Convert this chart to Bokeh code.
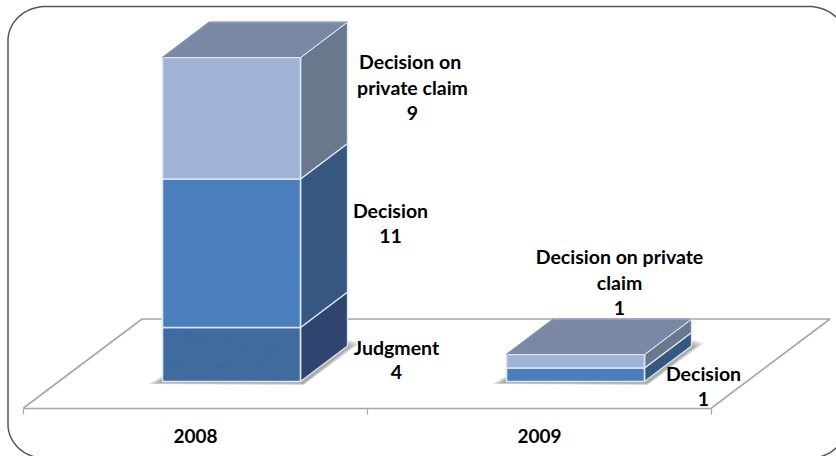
import numpy as np
from bokeh.core.properties import value
from bokeh.embed import file_html
from bokeh.models import FixedTicker, LinearAxis, Range1d
from bokeh.plotting import figure
from bokeh.resources import INLINE

# ---- data ----
categories = ["2008", "2009"]
series_names = ["Judgment", "Decision", "Decision on private claim"]
judgment = [4, 0]
decision = [11, 1]
private_claim = [9, 1]
tick_positions = [0, 1, 2]

# ---- styles ----
front_colors = ["#406b9f", "#4a7ebd", "#9fb3d6"]
side_colors = ["#2f4570", "#36577f", "#6a788e"]
top_color = "#7a88a6"
edge_color = "#dce6f2"
floor_color = "#a6a6a6"
border_color = "#555555"
PX_X = 344.0        # pixels per category
PX_Y = 13.5         # pixels per value unit
ORIGIN_X = 23.0
ORIGIN_Y = 381.0


def X(px):
    return (px - ORIGIN_X) / PX_X


def Y(py):
    return (ORIGIN_Y - py) / PX_Y


BAR_LEFT = 139.0 / PX_X
BAR_W = 138 / PX_X
DEPTH_X = 47 / PX_X
DEPTH_Y = 35.5 / PX_Y

p = figure(width=836, height=456, x_range=Range1d(X(0), X(836)), y_range=Range1d(Y(456), Y(0)),
           output_backend="svg", toolbar_location=None, min_border=0, outline_line_color=None,
           background_fill_color="white", border_fill_color="white", x_axis_type=None, y_axis_type=None)
p.grid.visible = False

# rounded frame (partly running off the picture)
L, R, T, B, rx, ry = 7.5, 846, 6, 458, 38, 34
a = np.linspace(0, np.pi / 2, 24)
bx = np.concatenate([L + rx - rx * np.cos(a), R - rx + rx * np.sin(a), R - rx + rx * np.cos(a), L + rx - rx * np.sin(a), [L]])
by = np.concatenate([T + ry - ry * np.sin(a), T + ry - ry * np.cos(a), B - ry + ry * np.sin(a), B - ry + ry * np.cos(a), [T + ry]])
p.line(X(bx), Y(by), line_color=border_color, line_width=1.5)

# floor
floor_dx = 118.5 / PX_X
back_y = Y(318.5)
front_y = Y(407.5)
p.line([0, floor_dx, 2 + floor_dx, 2], [front_y, back_y, back_y, front_y], line_color=floor_color, line_width=1.6)

# axes: ticks and category labels
tick_axis = LinearAxis(fixed_location=front_y, ticker=FixedTicker(ticks=tick_positions), bounds=(0, 2),
                       axis_line_color=floor_color, axis_line_width=1.6,
                       major_tick_line_color=floor_color, major_tick_line_width=1.2,
                       major_tick_out=6, major_tick_in=0, minor_tick_line_color=None,
                       major_label_text_font_size="0px", major_label_text_color=None)
p.add_layout(tick_axis, "below")
label_ticks = [i + 0.5 for i in range(len(categories))]
label_axis = LinearAxis(fixed_location=front_y, ticker=FixedTicker(ticks=label_ticks),
                        axis_line_color=None, major_tick_line_color=None, minor_tick_line_color=None,
                        major_label_overrides={t: c for t, c in zip(label_ticks, categories)},
                        major_label_standoff=15, major_label_text_font="Lato",
                        major_label_text_font_style="bold", major_label_text_font_size="19px",
                        major_label_text_color="#000000")
p.add_layout(label_axis, "below")

# soft shadows
for i in range(len(categories)):
    x0 = 162 + i * PX_X + 1
    for k in range(4):
        sx = [x0 - 15 + 3 * k, x0 - 2, x0 + 188 - 2 * k, x0 + 196 - 3 * k, x0 + 140]
        sy = [383.5 - k * 0.3, 376 + k, 340 + k, 343 + k, 384.5 - k * 0.5]
        p.patch(X(np.array(sx)), Y(np.array(sy)), fill_color="#444444", fill_alpha=0.14, line_color=None)

# 3-D stacked bars
stacks = [judgment, decision, private_claim]
for i in range(len(categories)):
    left = i + BAR_LEFT
    right = left + BAR_W
    base = 0
    for s, vals in enumerate(stacks):
        v = vals[i]
        if v == 0:
            continue
        top = base + v
        p.patch([right, right + DEPTH_X, right + DEPTH_X, right],
                [base, base + DEPTH_Y, top + DEPTH_Y, top],
                fill_color=side_colors[s], line_color=edge_color, line_width=1.3)
        p.quad(left=[left], right=[right], bottom=[base], top=[top],
               fill_color=front_colors[s], line_color=edge_color, line_width=1.6)
        base = top
    p.patch([left, left + DEPTH_X, right + DEPTH_X, right],
            [base, base + DEPTH_Y, base + DEPTH_Y, base],
            fill_color=top_color, line_color=edge_color, line_width=1.0)
    # back-edge edges of top stay soft
    p.line([left, left + DEPTH_X, right + DEPTH_X], [base, base + DEPTH_Y, base + DEPTH_Y],
           line_color=top_color, line_width=1.2)

# speckles in the lowest block of the reference
spk_x = [168, 188, 188, 201, 227, 247, 273, 267, 175, 218, 222, 260]
spk_y = [332, 334, 338, 338, 338, 345, 345, 352, 365, 365, 365, 365]
p.scatter(X(np.array(spk_x)), Y(np.array(spk_y)), marker="square", size=5.5,
          fill_color="#386aa3", fill_alpha=0.8, line_color=None)

# data labels
labels = [
    ("Decision  on", 412, 61), ("private claim", 412, 86.5), (str(private_claim[0]), 412, 112.5),
    (series_names[1], 390, 209.5), (str(decision[0]), 390, 235.5),
    (series_names[0], 396, 346.5), (str(judgment[0]), 396, 371.5),
    ("Decision on private", 619, 255.5), ("claim", 619, 281.5), (str(private_claim[1]), 619, 307.5),
    (series_names[1], 703, 372.5), (str(decision[1]), 703, 398.5),
]
p.text(X(np.array([l[1] for l in labels])), Y(np.array([l[2] for l in labels])),
       text=[l[0] for l in labels], text_font=value("Lato"), text_font_style="bold",
       text_font_size="19.5px", text_color="#000000", text_align="center", text_baseline="middle")

open("out.html", "w").write(file_html(p, INLINE))
